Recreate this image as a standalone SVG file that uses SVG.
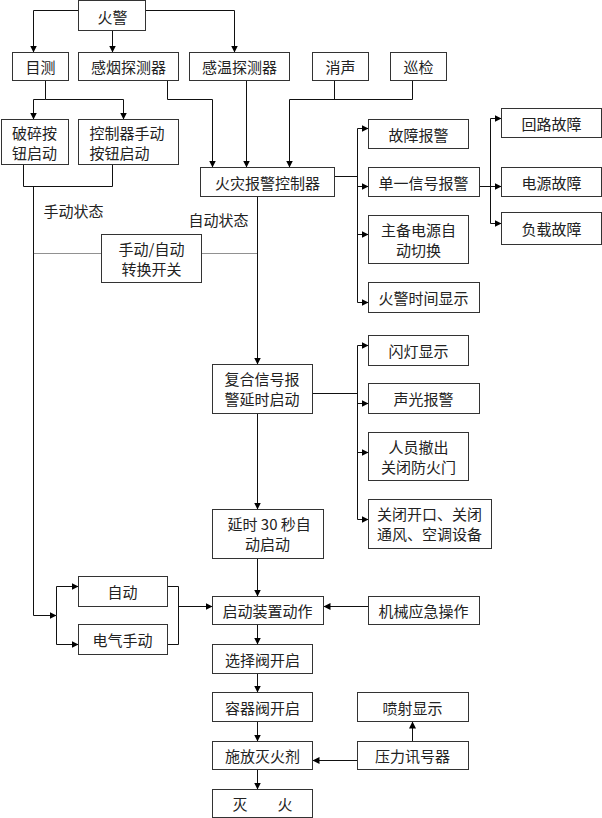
<svg xmlns="http://www.w3.org/2000/svg" width="602" height="818" viewBox="0 0 602 818">
<style>
.b rect{fill:#fff;stroke:#333;stroke-width:1}
text{font-family:"Noto Sans CJK SC","Liberation Sans",sans-serif;font-size:15px;fill:#222;dominant-baseline:central}
.m{text-anchor:middle}
.c path{fill:none;stroke:#111;stroke-width:1}
.c .a{marker-end:url(#ar)}
.c .dot{fill:none;stroke:#222;stroke-width:1;stroke-dasharray:1 1}
</style>
<defs>
<marker id="ar" markerUnits="userSpaceOnUse" markerWidth="8" markerHeight="7" refX="7" refY="3.5" orient="auto">
<path d="M0,0 L7,3.5 L0,7 z" fill="#000"/>
</marker>
</defs>
<rect width="602" height="818" fill="#fff"/>
<g transform="translate(0.5,0.5)">
<g class="c" id="connectors">
<path class="a" d="M78,10 H33 V52"/>
<path class="a" d="M112,30 V52"/>
<path class="a" d="M145,10 H234 V52"/>
<path class="a" d="M45,80 V99 H33 V119"/>
<path class="a" d="M45,99 H123 V119"/>
<path d="M23,164 V186 H112 V164"/>
<path class="a" d="M33,186 V615 H56"/>
<path class="a" d="M56,615 V586 H78"/>
<path class="a" d="M56,615 V644 H78"/>
<path d="M167,586 H178 V644 H167"/>
<path class="a" d="M178,606 H212"/>
<path class="a" d="M167,80 V99 H212 V167"/>
<path class="a" d="M246,80 V167"/>
<path d="M334,80 V99"/>
<path class="a" d="M412,80 V99 H289 V167"/>
<path d="M334,176 H357 M357,128 V302"/>
<path class="a" d="M357,128 H368"/>
<path class="a" d="M357,186 H368"/>
<path class="a" d="M357,234 H368"/>
<path class="a" d="M357,302 H368"/>
<path d="M479,186 H490 M490,118 V223"/>
<path class="a" d="M490,118 H501"/>
<path class="a" d="M490,186 H501"/>
<path class="a" d="M490,223 H501"/>
<path class="a" d="M257,196 V364"/>
<path d="M312,393 H357 M357,345 V519"/>
<path class="a" d="M357,345 H368"/>
<path class="a" d="M357,403 H368"/>
<path class="a" d="M357,452 H368"/>
<path class="a" d="M357,519 H368"/>
<path class="a" d="M257,413 V509"/>
<path class="a" d="M257,558 V596"/>
<path class="a" d="M368,606 H323"/>
<path class="a" d="M257,624 V644"/>
<path class="a" d="M257,673 V692"/>
<path class="a" d="M257,721 V741"/>
<path class="a" d="M257,769 V789"/>
<path class="a" d="M412,741 V721"/>
<path class="a" d="M357,760 H312"/>
<path class="dot" d="M33,253 H101 M201,253 H257"/>
</g>
<g class="b">
<g id="huojing"><rect x="78" y="0" width="67" height="30"/><text class="m" x="112" y="16">火警</text></g>
<g id="mulce"><rect x="12" y="52" width="56" height="28"/><text class="m" x="40" y="66">目测</text></g>
<g id="ganyan"><rect x="78" y="52" width="100" height="28"/><text class="m" x="128" y="66">感烟探测器</text></g>
<g id="ganwen"><rect x="189" y="52" width="100" height="28"/><text class="m" x="239" y="66">感温探测器</text></g>
<g id="xiaosheng"><rect x="312" y="52" width="56" height="28"/><text class="m" x="340" y="66">消声</text></g>
<g id="xunjian"><rect x="390" y="52" width="56" height="28"/><text class="m" x="418" y="66">巡检</text></g>
<g id="posui"><rect x="1" y="119" width="67" height="45"/><text class="m" x="34" y="132">破碎按</text><text class="m" x="34" y="152">钮启动</text></g>
<g id="kongzhiqi"><rect x="78" y="119" width="100" height="45"/><text x="89" y="132">控制器手动</text><text x="89" y="152">按钮启动</text></g>
<g id="controller"><rect x="200" y="167" width="134" height="29"/><text class="m" x="267" y="182">火灾报警控制器</text></g>
<g id="guzhang"><rect x="368" y="119" width="100" height="29"/><text class="m" x="418" y="134">故障报警</text></g>
<g id="danyi"><rect x="368" y="167" width="111" height="29"/><text class="m" x="423" y="182">单一信号报警</text></g>
<g id="zhubei"><rect x="368" y="215" width="100" height="48"/><text class="m" x="418" y="229">主备电源自</text><text class="m" x="418" y="249">动切换</text></g>
<g id="shijian"><rect x="368" y="282" width="111" height="30"/><text class="m" x="423" y="297">火警时间显示</text></g>
<g id="huilu"><rect x="501" y="108" width="100" height="29"/><text class="m" x="551" y="123">回路故障</text></g>
<g id="dianyuan"><rect x="501" y="167" width="100" height="29"/><text class="m" x="551" y="182">电源故障</text></g>
<g id="fuzai"><rect x="501" y="212" width="100" height="32"/><text class="m" x="551" y="228">负载故障</text></g>
<g id="switch"><rect x="101" y="234" width="100" height="48"/><text class="m" x="151" y="248">手动/自动</text><text class="m" x="151" y="268">转换开关</text></g>
<g id="fuhe"><rect x="212" y="364" width="100" height="49"/><text x="224" y="378">复合信号报</text><text x="224" y="398">警延时启动</text></g>
<g id="shandeng"><rect x="368" y="335" width="100" height="30"/><text class="m" x="418" y="350">闪灯显示</text></g>
<g id="shengguang"><rect x="368" y="383" width="111" height="30"/><text class="m" x="423" y="398">声光报警</text></g>
<g id="renyuan"><rect x="368" y="432" width="100" height="48"/><text class="m" x="418" y="446">人员撤出</text><text class="m" x="418" y="466">关闭防火门</text></g>
<g id="guanbi"><rect x="368" y="499" width="123" height="49"/><text class="m" x="429" y="513">关闭开口、关闭</text><text class="m" x="429" y="533">通风、空调设备</text></g>
<g id="yanshi"><rect x="212" y="509" width="111" height="49"/><text x="227" y="523">延时 30 秒自</text><text class="m" x="267" y="543">动启动</text></g>
<g id="qidong"><rect x="212" y="596" width="111" height="28"/><text class="m" x="267" y="610">启动装置动作</text></g>
<g id="jixie"><rect x="368" y="596" width="111" height="28"/><text class="m" x="423" y="610">机械应急操作</text></g>
<g id="zidong"><rect x="78" y="576" width="89" height="30"/><text class="m" x="122" y="591">自动</text></g>
<g id="dianqi"><rect x="78" y="624" width="89" height="30"/><text class="m" x="122" y="639">电气手动</text></g>
<g id="xuanze"><rect x="212" y="644" width="100" height="29"/><text class="m" x="262" y="659">选择阀开启</text></g>
<g id="rongqi"><rect x="212" y="692" width="100" height="29"/><text class="m" x="262" y="707">容器阀开启</text></g>
<g id="shifang"><rect x="212" y="741" width="100" height="28"/><text class="m" x="262" y="755">施放灭火剂</text></g>
<g id="miehuo"><rect x="212" y="789" width="100" height="28"/><text class="m" x="262" y="803">灭　　火</text></g>
<g id="penshe"><rect x="357" y="692" width="111" height="29"/><text class="m" x="412" y="707">喷射显示</text></g>
<g id="yali"><rect x="357" y="741" width="111" height="28"/><text class="m" x="412" y="755">压力讯号器</text></g>
</g>
<text x="43" y="210">手动状态</text>
<text x="188" y="219">自动状态</text>
</g>
</svg>
